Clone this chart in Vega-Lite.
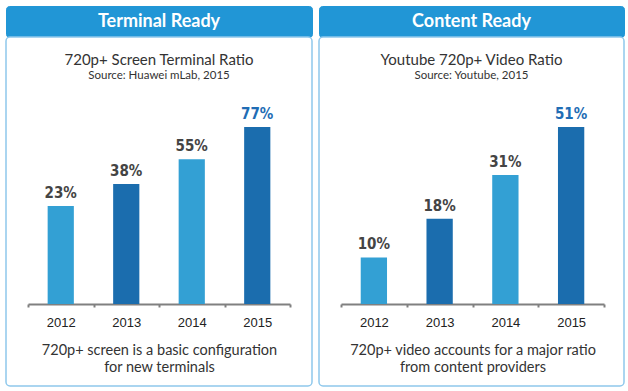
{
  "$schema": "https://vega.github.io/schema/vega-lite/v6.json",
  "padding": {"left": 5, "top": 5, "right": 0, "bottom": 0},
  "background": "white",
  "datasets": {
    "terminal": [
      {"year": "2012", "value": 0.23},
      {"year": "2013", "value": 0.38},
      {"year": "2014", "value": 0.55},
      {"year": "2015", "value": 0.77}
    ],
    "content": [
      {"year": "2012", "value": 0.10},
      {"year": "2013", "value": 0.18},
      {"year": "2014", "value": 0.31},
      {"year": "2015", "value": 0.51}
    ],
    "h1": [{"t": "Terminal Ready"}],
    "h2": [{"t": "Content Ready"}]
  },
  "config": {
    "font": "Lato",
    "view": {"stroke": null},
    "concat": {"spacing": 0}
  },
  "hconcat": [
    {
      "spacing": 0,
      "bounds": "flush",
      "vconcat": [
        {
          "width": 306, "height": 31,
          "data": {"name": "h1"},
          "view": {"fill": "#2196d6", "stroke": "#2196d6", "cornerRadius": 3},
          "mark": {"type": "text", "color": "white", "font": "Lato", "fontWeight": "bold", "fontSize": 18},
          "encoding": {"text": {"field": "t"}}
        },
        {
          "width": 306, "height": 349,
          "data": {"name": "terminal"},
          "view": {"fill": "white", "stroke": "#8ec8ec", "strokeWidth": 1.5, "cornerRadius": 4},
          "title": {
            "text": "720p+ Screen Terminal Ratio",
            "subtitle": "Source: Huawei mLab, 2015",
            "offset": -44,
            "anchor": "middle",
            "font": "Lato", "fontSize": 15, "fontWeight": "normal", "color": "#333",
            "subtitleFont": "Lato", "subtitleFontSize": 11.5, "subtitleColor": "#333", "subtitlePadding": 2
          },
          "encoding": {
            "x": {
              "field": "year", "type": "ordinal",
              "scale": {"range": [22, 284], "paddingInner": 0, "paddingOuter": 0},
              "axis": {
                "orient": "bottom", "offset": -82, "labelAngle": 0,
                "domainColor": "#808080", "domainWidth": 2,
                "tickColor": "#808080", "tickWidth": 2, "tickSize": 3, "tickBand": "extent",
                "labelFont": "Liberation Sans", "labelFontSize": 13, "labelColor": "#222", "labelPadding": 9,
                "title": ["720p+ screen is a basic configuration", "for new terminals"],
                "titleFont": "Lato", "titleFontSize": 14.5, "titleFontWeight": "normal", "titleColor": "#333",
                "titlePadding": 14, "titleLineHeight": 17
              }
            },
            "y": {
              "field": "value", "type": "quantitative",
              "scale": {"domain": [-0.44, 0.77], "range": [267, 90], "nice": false, "zero": false},
              "axis": null
            }
          },
          "layer": [
            {
              "mark": {"type": "bar", "width": {"band": 0.4}},
              "encoding": {
                "y2": {"datum": -0.44},
                "color": {"field": "year", "type": "nominal", "legend": null,
                  "scale": {"range": ["#33a0d4", "#1b6dae", "#33a0d4", "#1b6dae"]}}
              }
            },
            {
              "mark": {"type": "text", "baseline": "alphabetic", "dy": -8, "font": "Liberation Sans Narrow, DejaVu Sans Condensed, sans-serif", "fontWeight": "bold", "fontSize": 15},
              "encoding": {
                "text": {"field": "value", "type": "quantitative", "format": ".0%"},
                "color": {"condition": {"test": "datum.year === '2015'", "value": "#1f6db5"}, "value": "#444"}
              }
            }
          ]
        }
      ]
    },
    {
      "spacing": 0,
      "bounds": "flush",
      "vconcat": [
        {
          "width": 305, "height": 31,
          "data": {"name": "h2"},
          "view": {"fill": "#2196d6", "stroke": "#2196d6", "cornerRadius": 3},
          "mark": {"type": "text", "color": "white", "font": "Lato", "fontWeight": "bold", "fontSize": 18},
          "encoding": {"text": {"field": "t"}}
        },
        {
          "width": 305, "height": 349,
          "data": {"name": "content"},
          "view": {"fill": "white", "stroke": "#8ec8ec", "strokeWidth": 1.5, "cornerRadius": 4},
          "title": {
            "text": "Youtube 720p+ Video Ratio",
            "subtitle": "Source: Youtube, 2015",
            "offset": -44,
            "anchor": "middle",
            "font": "Lato", "fontSize": 15, "fontWeight": "normal", "color": "#333",
            "subtitleFont": "Lato", "subtitleFontSize": 11.5, "subtitleColor": "#333", "subtitlePadding": 2
          },
          "encoding": {
            "x": {
              "field": "year", "type": "ordinal",
              "scale": {"range": [22, 285], "paddingInner": 0, "paddingOuter": 0},
              "axis": {
                "orient": "bottom", "offset": -82, "labelAngle": 0,
                "domainColor": "#808080", "domainWidth": 2,
                "tickColor": "#808080", "tickWidth": 2, "tickSize": 3, "tickBand": "extent",
                "labelFont": "Liberation Sans", "labelFontSize": 13, "labelColor": "#222", "labelPadding": 9,
                "title": ["720p+ video accounts for a major ratio", "from content providers"],
                "titleFont": "Lato", "titleFontSize": 14.5, "titleFontWeight": "normal", "titleColor": "#333",
                "titlePadding": 14, "titleLineHeight": 17
              }
            },
            "y": {
              "field": "value", "type": "quantitative",
              "scale": {"type": "pow", "exponent": 0.35, "domain": [0.04, 0.51], "range": [267, 90], "nice": false, "zero": false},
              "axis": null
            }
          },
          "layer": [
            {
              "mark": {"type": "bar", "width": {"band": 0.4}},
              "encoding": {
                "y2": {"datum": 0.04},
                "color": {"field": "year", "type": "nominal", "legend": null,
                  "scale": {"range": ["#33a0d4", "#1b6dae", "#33a0d4", "#1b6dae"]}}
              }
            },
            {
              "mark": {"type": "text", "baseline": "alphabetic", "dy": -8, "font": "Liberation Sans Narrow, DejaVu Sans Condensed, sans-serif", "fontWeight": "bold", "fontSize": 15},
              "encoding": {
                "text": {"field": "value", "type": "quantitative", "format": ".0%"},
                "color": {"condition": {"test": "datum.year === '2015'", "value": "#1f6db5"}, "value": "#444"}
              }
            }
          ]
        }
      ]
    }
  ],
  "spacing": 5
}
